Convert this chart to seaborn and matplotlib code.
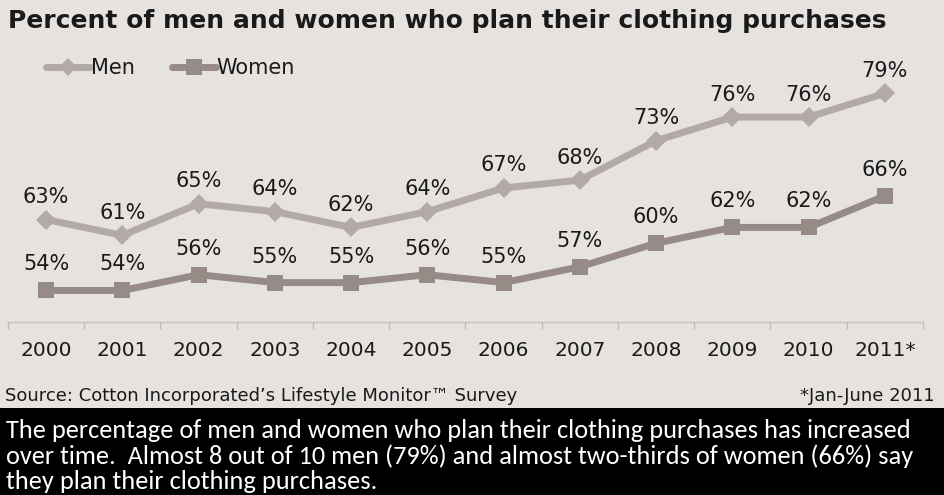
import matplotlib
matplotlib.use("Agg")
import matplotlib.pyplot as plt
from matplotlib import font_manager
import seaborn as sns
import pandas as pd
from matplotlib.patches import Rectangle
from matplotlib.lines import Line2D

years = ["2000", "2001", "2002", "2003", "2004", "2005", "2006", "2007", "2008", "2009", "2010", "2011*"]
men = [63, 61, 65, 64, 62, 64, 67, 68, 73, 76, 76, 79]
women = [54, 54, 56, 55, 55, 56, 55, 57, 60, 62, 62, 66]

title = "Percent of men and women who plan their clothing purchases"
source = "Source: Cotton Incorporated\u2019s Lifestyle Monitor\u2122 Survey"
footnote = "*Jan-June 2011"
caption = ("The percentage of men and women who plan their clothing purchases has increased\n"
           "over time.  Almost 8 out of 10 men (79%) and almost two-thirds of women (66%) say\n"
           "they plan their clothing purchases.")

BG = "#E6E2DF"
MEN_C = "#B3A9A6"
WOMEN_C = "#978B88"

sns.set_theme(style="white")
plt.rcParams['font.family'] = ['DejaVu Sans']

installed = set(f.name for f in font_manager.fontManager.ttflist)
if "Carlito" in installed:
    cap_family, cap_size, cap_ls = ["Carlito", "DejaVu Sans"], 19, 1.1
else:
    cap_family, cap_size, cap_ls = ["DejaVu Sans"], 15.5, 1.1

df = pd.DataFrame({
    "year": years * 2,
    "x": list(range(len(years))) * 2,
    "value": men + women,
    "series": ["Men"] * len(years) + ["Women"] * len(years),
})

W, H = 945, 495
fig = plt.figure(figsize=(W / 100, H / 100), dpi=100, facecolor=BG)
ax = fig.add_axes([8 / W, (H - 322) / H, 915 / W, 268 / H])
ax.set_facecolor(BG)

sns.lineplot(data=df, x="x", y="value", hue="series", style="series",
             palette={"Men": MEN_C, "Women": WOMEN_C},
             markers={"Men": "D", "Women": "s"}, dashes=False,
             markersize=10, linewidth=5, markeredgewidth=0, ax=ax, legend=False)
for ln in ax.lines:
    if ln.get_marker() == "s":
        ln.set_markersize(11.5)

ax.set_xlim(-0.5, len(years) - 0.5)
ax.set_ylim(50, 84)
ax.set_xlabel("")
ax.set_ylabel("")
ax.set_yticks([])
ax.set_xticks(range(len(years)))
ax.set_xticklabels(years, fontsize=14.5, color="#1a1a1a")
ax.set_xticks([i - 0.5 for i in range(len(years) + 1)], minor=True)
ax.tick_params(axis="x", which="major", bottom=True, length=0, pad=14)
ax.tick_params(axis="x", which="minor", bottom=True, length=5, color="#BDBDBD", width=1, direction="out")
for s in ["top", "right", "left"]:
    ax.spines[s].set_visible(False)
ax.spines["bottom"].set_color("#C4C4C4")
ax.spines["bottom"].set_linewidth(1)

for i, v in enumerate(men):
    ax.annotate(f"{v}%", (i, v), xytext=(0, 9), textcoords="offset points",
                ha="center", va="bottom", fontsize=15, color="#1a1a1a")
for i, v in enumerate(women):
    ax.annotate(f"{v}%", (i, v), xytext=(0, 11.5), textcoords="offset points",
                ha="center", va="bottom", fontsize=15, color="#1a1a1a")

handles = [Line2D([], [], color=MEN_C, lw=5, marker="D", markersize=9, markeredgewidth=0),
           Line2D([], [], color=WOMEN_C, lw=5, marker="s", markersize=11, markeredgewidth=0)]
leg = fig.legend(handles, ["Men", "Women"], loc="center left", bbox_to_anchor=(27 / W, 1 - 68 / H),
                 ncol=2, frameon=False, fontsize=15, handlelength=2.1, handletextpad=0.05,
                 columnspacing=1.8)
for t in leg.get_texts():
    t.set_color("#1a1a1a")

fig.text(8 / W, 1 - 21 / H, title, fontsize=18, fontweight="bold", color="#1a1a1a",
         ha="left", va="center")
fig.text(5 / W, 1 - 396 / H, source, fontsize=13, color="#1a1a1a", ha="left", va="center")
fig.text(935 / W, 1 - 396 / H, footnote, fontsize=13, color="#1a1a1a", ha="right", va="center")

fig.patches.append(Rectangle((0, 0), 1, 87 / H, transform=fig.transFigure,
                             facecolor="black", edgecolor="none", zorder=0))
fig.text(6 / W, 1 - 456 / H, caption, fontsize=cap_size, color="white", ha="left", va="center",
         family=cap_family, linespacing=cap_ls)

fig.savefig("out.png", dpi=100, facecolor=BG)
